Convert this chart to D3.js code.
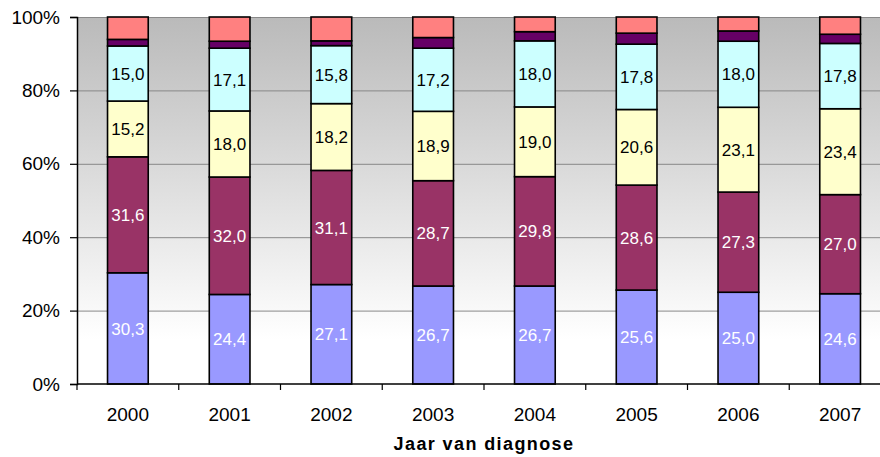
<!DOCTYPE html>
<html>
<head>
<meta charset="utf-8">
<script src="https://cdn.jsdelivr.net/npm/d3@7"></script>
<style>
  html, body { margin: 0; padding: 0; background: #fff; }
  svg { display: block; font-family: "Liberation Sans", Arial, sans-serif; }
</style>
</head>
<body>
<svg id="chart" width="880" height="457"></svg>
<script>
// Share (%) per year of diagnosis, stacked bottom to top
const years = ["2000", "2001", "2002", "2003", "2004", "2005", "2006", "2007"];
const seriesBlue   = [30.3, 24.4, 27.1, 26.7, 26.7, 25.6, 25.0, 24.6];
const seriesMaroon = [31.6, 32.0, 31.1, 28.7, 29.8, 28.6, 27.3, 27.0];
const seriesYellow = [15.2, 18.0, 18.2, 18.9, 19.0, 20.6, 23.1, 23.4];
const seriesCyan   = [15.0, 17.1, 15.8, 17.2, 18.0, 17.8, 18.0, 17.8];
const seriesPurple = [1.8, 1.9, 1.3, 2.9, 2.5, 3.0, 2.8, 2.5];
const seriesPink   = [6.1, 6.6, 6.5, 5.6, 4.0, 4.4, 3.8, 4.7];
const yTicks = [0, 20, 40, 60, 80, 100];

const keys = ["blue", "maroon", "yellow", "cyan", "purple", "pink"];
const fills = {
  blue: "#9999ff", maroon: "#993366", yellow: "#ffffcc",
  cyan: "#ccffff", purple: "#660066", pink: "#ff8080"
};
// Which segments carry a value label, and in which colour
const labelColor = { blue: "#ffffff", maroon: "#ffffff", yellow: "#000000", cyan: "#000000" };

const rows = years.map((yr, i) => ({
  year: yr,
  blue: seriesBlue[i], maroon: seriesMaroon[i], yellow: seriesYellow[i],
  cyan: seriesCyan[i], purple: seriesPurple[i], pink: seriesPink[i]
}));

const svg = d3.select("#chart");
const plot = { left: 77, top: 17, bottom: 384, right: 891 };

const x = d3.scaleBand().domain(years).range([plot.left, plot.right])
  .paddingInner(0.6).paddingOuter(0.3);
const y = d3.scaleLinear().domain([0, 100]).range([plot.bottom, plot.top]);

// Plot background: grey at the top fading to white
const defs = svg.append("defs");
const grad = defs.append("linearGradient").attr("id", "bg")
  .attr("x1", 0).attr("y1", 0).attr("x2", 0).attr("y2", 1);
grad.append("stop").attr("offset", "0%").attr("stop-color", "#bababa");
grad.append("stop").attr("offset", "88%").attr("stop-color", "#ffffff");
grad.append("stop").attr("offset", "100%").attr("stop-color", "#ffffff");

svg.append("rect")
  .attr("x", plot.left).attr("y", plot.top)
  .attr("width", plot.right - plot.left).attr("height", plot.bottom - plot.top)
  .attr("fill", "url(#bg)");

// Horizontal gridlines
svg.append("g").selectAll("line")
  .data(yTicks.filter(d => d > 0))
  .join("line")
  .attr("x1", plot.left).attr("x2", plot.right)
  .attr("y1", d => y(d) + 0.5).attr("y2", d => y(d) + 0.5)
  .attr("stroke", "#888888").attr("stroke-width", 1);

// Stacked bars
const stacked = d3.stack().keys(keys)(rows);
const layers = svg.append("g").selectAll("g")
  .data(stacked).join("g")
  .attr("fill", d => fills[d.key]);

layers.selectAll("rect")
  .data(d => d)
  .join("rect")
  .attr("x", d => x(d.data.year))
  .attr("width", x.bandwidth())
  .attr("y", d => y(d[1]))
  .attr("height", d => y(d[0]) - y(d[1]))
  .attr("stroke", "#000")
  .attr("stroke-width", 1.6);

// Value labels inside the labelled segments
stacked.filter(s => labelColor[s.key]).forEach(s => {
  svg.append("g").selectAll("text")
    .data(s)
    .join("text")
    .attr("x", d => x(d.data.year) + x.bandwidth() / 2)
    .attr("y", d => (y(d[0]) + y(d[1])) / 2)
    .attr("dy", "0.36em")
    .attr("text-anchor", "middle")
    .attr("font-size", 17)
    .attr("fill", labelColor[s.key])
    .text(d => d3.format(".1f")(d.data[s.key]).replace(".", ","));
});

// Y axis
const yAxis = svg.append("g")
  .attr("transform", `translate(${plot.left},0)`)
  .call(d3.axisLeft(y).tickValues(yTicks).tickFormat(d => d + "%")
    .tickSize(7).tickPadding(10));
yAxis.select(".domain").attr("stroke", "#000").attr("stroke-width", 1.5);
yAxis.selectAll(".tick line").attr("stroke", "#000").attr("stroke-width", 1.2);
yAxis.selectAll(".tick text").attr("font-size", 19).attr("fill", "#000")
  .attr("font-family", "Liberation Sans, Arial, sans-serif");

// X axis: baseline, category separators and year labels
const xAxis = svg.append("g");
xAxis.append("line")
  .attr("x1", plot.left).attr("x2", plot.right)
  .attr("y1", plot.bottom).attr("y2", plot.bottom)
  .attr("stroke", "#000").attr("stroke-width", 1.5);
const step = x.step();
const bounds = d3.range(years.length + 1).map(i => plot.left + i * step);
xAxis.selectAll("line.sep")
  .data(bounds).join("line").attr("class", "sep")
  .attr("x1", d => d).attr("x2", d => d)
  .attr("y1", plot.bottom).attr("y2", plot.bottom + 6)
  .attr("stroke", "#000").attr("stroke-width", 1.2);
xAxis.selectAll("text")
  .data(years).join("text")
  .attr("x", d => x(d) + x.bandwidth() / 2)
  .attr("y", 421)
  .attr("text-anchor", "middle")
  .attr("font-size", 19)
  .attr("fill", "#000")
  .text(d => d);

// Axis title
svg.append("text")
  .attr("x", (plot.left + plot.right) / 2)
  .attr("y", 450)
  .attr("text-anchor", "middle")
  .attr("font-size", 18)
  .attr("font-weight", "bold")
  .attr("letter-spacing", 1.4)
  .attr("fill", "#000")
  .text("Jaar van diagnose");
</script>
</body>
</html>
